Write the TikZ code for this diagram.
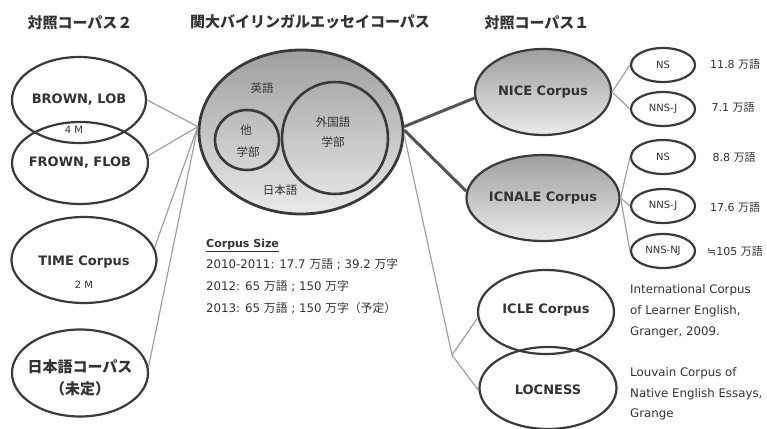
\documentclass[tikz,border=0pt]{standalone}
\usepackage{fontspec}
\setmainfont{DejaVu Sans}
\newfontfamily\jp{Noto Sans CJK JP}
\usetikzlibrary{shapes.geometric}
\definecolor{edgec}{HTML}{3A3A3A}
\definecolor{linec}{HTML}{A0A0A0}
\definecolor{txt}{HTML}{333333}
\definecolor{thk}{HTML}{555555}
\definecolor{gtop}{HTML}{9E9E9E}
\definecolor{gbot}{HTML}{EAEAEA}
\newcommand{\J}[1]{{\jp #1}}
\begin{document}
\begin{tikzpicture}[x=1pt,y=-1pt,
  ell/.style={ellipse, draw=edgec, line width=2.2pt, inner sep=0pt, text=txt},
  grad/.style={top color=gtop, bottom color=gbot},
  conn/.style={draw=linec, line width=1.2pt},
  conk/.style={draw=thk, line width=3pt},
  big/.style={font=\fontsize{13}{15}\selectfont\bfseries},
  ttl/.style={font=\jp\fontsize{15}{17}\selectfont\bfseries, text=txt},
  jpl/.style={font=\jp\fontsize{11.5}{13}\selectfont, text=txt},
  lbl/.style={text=txt, font=\fontsize{11}{13}\selectfont},
  sml/.style={text=txt, font=\fontsize{10}{12}\selectfont},
  cit/.style={text=txt, font=\fontsize{11.8}{13}\selectfont, anchor=west, inner sep=0pt},
  small/.style={ell, minimum width=64pt, minimum height=34pt},
]
\useasboundingbox[fill=white] (0,0) rectangle (767,428);

% titles
\node[ttl] (t2) at (80,23) {対照コーパス２};
\node[ttl] (t0) at (310,22) {関大バイリンガルエッセイコーパス};
\node[ttl] (t1) at (537,23) {対照コーパス１};

% hub
\node[ell, grad, line width=2.8pt, minimum width=204pt, minimum height=164pt] (hub) at (301,132) {};
\node[ell, line width=2.6pt, minimum width=64pt, minimum height=60pt] (other) at (247,140) {};
\node[ell, line width=2.6pt, minimum width=106pt, minimum height=112pt] (gaikoku) at (335,138) {};
\node[jpl] (eigo) at (262,88) {英語};
\node[jpl] (ta) at (246,130) {他};
\node[jpl] (gakubu1) at (248,152) {学部};
\node[jpl] (gaikokugo) at (333,122) {外国語};
\node[jpl] (gakubu2) at (333,142) {学部};
\node[jpl] (nihongo) at (280,190) {日本語};

% left corpora
\node[ell, big, minimum width=134pt, minimum height=86pt] (brown) at (79,100) {};
\node[ell, big, minimum width=136pt, minimum height=82pt] (frown) at (80,163) {};
\node[big, text=txt] (brownt) at (79,100) {BROWN, LOB};
\node[big, text=txt] (frownt) at (80,163) {FROWN, FLOB};
\node[sml] (fourm) at (74,130) {4 M};
\node[ell, minimum width=145pt, minimum height=86pt] (time) at (84,260) {};
\node[big, text=txt] (timet) at (84,262) {TIME Corpus};
\node[sml] (twom) at (84,285) {2 M};
\node[ell, minimum width=136pt, minimum height=87pt] (jpc) at (80,373) {};
\node[ttl] (jpct) at (80,367) {日本語コーパス};
\node[ttl] (jpcu) at (80,389) {（未定）};

\draw[conn] (brown.east) -- (hub.177);
\draw[conn] (frown.6) -- (hub.177);
\draw[conn] (time.10) -- (hub.177);
\draw[conn] (jpc.5) -- (hub.177);

% corpus size
\node[lbl, anchor=west, inner sep=0pt, font=\fontsize{11}{13}\selectfont\bfseries] (cs) at (206,245) {\underline{Corpus Size}};
\node[lbl, anchor=west, inner sep=0pt, font=\fontsize{11.8}{13}\selectfont] (cs1) at (206,264) {2010-2011: 17.7 \J{万語} ; 39.2 \J{万字}};
\node[lbl, anchor=west, inner sep=0pt, font=\fontsize{11.8}{13}\selectfont] (cs2) at (206,286) {2012: 65 \J{万語} ; 150 \J{万字}};
\node[lbl, anchor=west, inner sep=0pt, font=\fontsize{11.8}{13}\selectfont] (cs3) at (206,308) {2013: 65 \J{万語} ; 150 \J{万字（予定）}};

% right corpora
\node[ell, grad, big, minimum width=136pt, minimum height=86pt] (nice) at (543,92) {NICE Corpus};
\node[ell, grad, big, minimum width=136pt, minimum height=86pt] (icnale) at (543,198) {ICNALE Corpus};
\node[ell, big, minimum width=136pt, minimum height=84pt] (icle) at (546,312) {};
\node[ell, big, minimum width=137pt, minimum height=82pt] (locness) at (548,388) {};
\node[big, text=txt] (iclet) at (546,310) {ICLE Corpus};
\node[big, text=txt] (locnesst) at (548,390) {LOCNESS};

\node[small, sml] (ns1) at (663,65) {NS};
\node[small, sml] (nnsj1) at (663,109) {NNS-J};
\node[small, sml] (ns2) at (663,157) {NS};
\node[small, sml] (nnsj2) at (663,206) {NNS-J};
\node[small, sml] (nnsnj) at (663,251) {NNS-NJ};

\node[lbl] (v1) at (735,65) {11.8 \J{万語}};
\node[lbl] (v2) at (733,108) {7.1 \J{万語}};
\node[lbl] (v3) at (734,158) {8.8 \J{万語}};
\node[lbl] (v4) at (735,208) {17.6 \J{万語}};
\node[lbl] (v5) at (735,252) {≒105 \J{万語}};

\coordinate (jn) at (452,355);
\draw[conk] (hub.3) -- (nice.185);
\draw[conk] (hub.1) -- (icnale.175);
\draw[conn] (hub.-2) -- (jn);
\draw[conn] (jn) -- (icle.185);
\draw[conn] (jn) -- (locness.182);
\draw[conn] (nice.east) -- (ns1.west);
\draw[conn] (nice.east) -- (nnsj1.west);
\draw[conn] (icnale.east) -- (ns2.west);
\draw[conn] (icnale.east) -- (nnsj2.west);
\draw[conn] (icnale.east) -- (nnsnj.west);

% citations
\node[cit] (c1) at (630,290) {International Corpus};
\node[cit] (c2) at (630,311) {of Learner English,};
\node[cit] (c3) at (630,332) {Granger, 2009.};
\node[cit] (c4) at (630,373) {Louvain Corpus of};
\node[cit] (c5) at (630,394) {Native English Essays,};
\node[cit] (c6) at (630,414) {Grange};
\end{tikzpicture}
\end{document}
